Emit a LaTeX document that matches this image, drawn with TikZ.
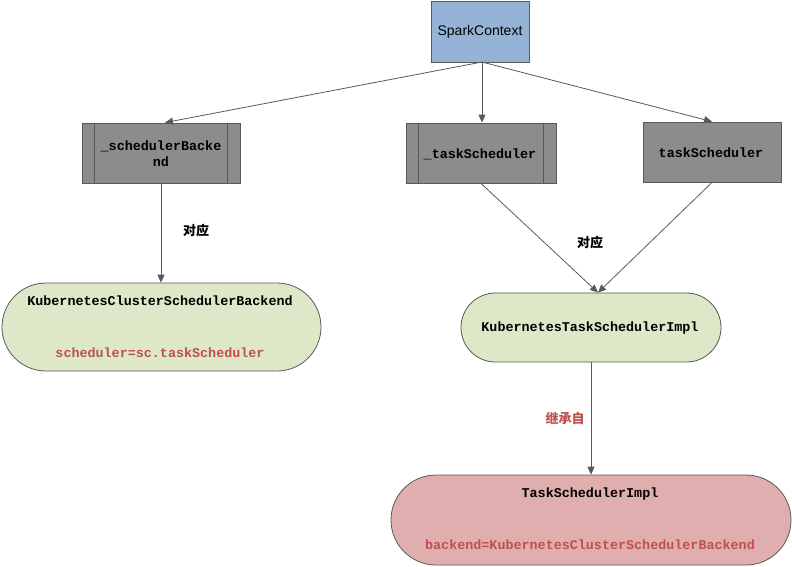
\documentclass[tikz,border=0pt]{standalone}
\usepackage{fontspec}
\setmainfont{Liberation Sans}
\setmonofont{Liberation Mono}
\newfontfamily\cjk{Noto Sans CJK SC}
\usetikzlibrary{arrows.meta}
\definecolor{lineg}{RGB}{89,89,89}
\definecolor{boxg}{RGB}{140,140,140}
\definecolor{blue1}{RGB}{149,179,215}
\definecolor{green1}{RGB}{221,232,200}
\definecolor{pink1}{RGB}{224,174,174}
\definecolor{red1}{RGB}{192,80,77}
\tikzset{
  conn/.style={draw=lineg, line width=0.8pt, -{Triangle[length=8pt,width=7pt]}},
  graybox/.style={draw=lineg, fill=boxg, line width=0.8pt, inner sep=0pt},
  pill/.style={draw=lineg, line width=0.8pt, inner sep=0pt},
  monot/.style={font=\fontsize{13.4}{16}\selectfont\ttfamily\bfseries, inner sep=0pt},
  cjkt/.style={font=\fontsize{13}{15}\selectfont\cjk\bfseries, inner sep=0pt}
}
\begin{document}
\begin{tikzpicture}[x=1pt,y=-1pt]
\useasboundingbox (0,0) rectangle (792,566);
% SparkContext
\node[draw=lineg, fill=blue1, line width=0.8pt, minimum width=98pt, minimum height=61pt, inner sep=0pt,
      font=\fontsize{14}{16}\selectfont] (sc) at (480,31.5) {SparkContext};
% gray boxes
\node[graybox, minimum width=158pt, minimum height=60pt] (sb) at (161,153) {};
\draw[lineg, line width=0.8pt] ([xshift=13pt]sb.north west) -- ([xshift=13pt]sb.south west);
\draw[lineg, line width=0.8pt] ([xshift=-13pt]sb.north east) -- ([xshift=-13pt]sb.south east);
\node[monot, align=center] (sbt) at (161,154) {\_schedulerBacke\\nd};
\node[graybox, minimum width=150pt, minimum height=60pt] (ts) at (481,153) {};
\draw[lineg, line width=0.8pt] ([xshift=13pt]ts.north west) -- ([xshift=13pt]ts.south west);
\draw[lineg, line width=0.8pt] ([xshift=-13pt]ts.north east) -- ([xshift=-13pt]ts.south east);
\node[monot] (tst) at (480,154) {\_taskScheduler};
\node[graybox, minimum width=138pt, minimum height=60pt] (ts2) at (712,152) {};
\node[monot] (ts2t) at (711,153) {taskScheduler};
% pills
\node[pill, fill=green1, minimum width=319pt, minimum height=88pt, rounded corners=44pt] (kcsb) at (161.5,327) {};
\node[monot] (kcsbt) at (160,301) {KubernetesClusterSchedulerBackend};
\node[monot, text=red1] (kcsbr) at (160,353) {scheduler=sc.taskScheduler};
\node[pill, fill=green1, minimum width=260pt, minimum height=69pt, rounded corners=34.5pt] (ktsi) at (591,327.5) {};
\node[monot] (ktsit) at (590,328) {KubernetesTaskSchedulerImpl};
\node[pill, fill=pink1, minimum width=400pt, minimum height=90pt, rounded corners=45pt] (tsi) at (591,520) {};
\node[monot] (tsit) at (590,494) {TaskSchedulerImpl};
\node[monot, text=red1] (tsir) at (590,545) {backend=KubernetesClusterSchedulerBackend};
% connectors
\coordinate (scb) at (482,62);
\draw[conn] (scb) -- ([xshift=4pt]sb.north);
\draw[conn] (scb) -- (ts.north -| scb);
\draw[conn] (scb) -- (ts2.north);
\draw[conn] (sb.south) -- (kcsb.north -| sb.south);
\draw[conn] (ts.south) -- ([xshift=7pt]ktsi.north);
\draw[conn] (ts2.south) -- ([xshift=7pt]ktsi.north);
\draw[conn] (ktsi.south) -- (tsi.north);
% labels
\node[cjkt] (l1) at (196,231) {对应};
\node[cjkt] (l2) at (590,243) {对应};
\node[cjkt, text=red1] (l3) at (565,418) {继承自};
\end{tikzpicture}
\end{document}
